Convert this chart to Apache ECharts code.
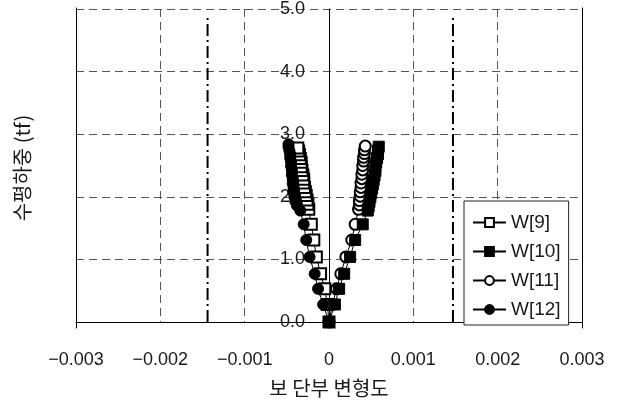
<!DOCTYPE html>
<html>
<head>
<meta charset="utf-8">
<script src="https://cdn.jsdelivr.net/npm/echarts@6/dist/echarts.min.js"></script>
<style>
  html, body { margin: 0; padding: 0; background: #fff; }
  #chart { width: 623px; height: 403px; }
</style>
</head>
<body>
<div id="chart"></div>
<script>
// 보 단부 변형도 vs 수평하중
var seriesNames = ['W[9]', 'W[10]', 'W[11]', 'W[12]'];

var xTicks = [-0.003, -0.002, -0.001, 0, 0.001, 0.002, 0.003];
var yTicks = [0, 1, 2, 3, 4, 5];

// W[9] (open square, left side)
var x9 = [0, -0.00002, -0.00005, -0.0001, -0.00015, -0.00018, -0.00021, -0.00024, -0.00025, -0.00026, -0.00027, -0.00028,
  -0.00029, -0.0003, -0.0003, -0.00031, -0.00032, -0.00033, -0.00033, -0.00034, -0.00035, -0.00036, -0.00037];
var y9 = [0, 0.28, 0.53, 0.77, 1.04, 1.31, 1.56, 1.80, 1.88, 1.95, 2.02, 2.08,
  2.15, 2.22, 2.28, 2.35, 2.42, 2.48, 2.55, 2.61, 2.67, 2.73, 2.78];

// W[10] (filled square, right side)
var x10 = [0, 0.00007, 0.00012, 0.00018, 0.00025, 0.00031, 0.0004, 0.00046, 0.00047, 0.00048, 0.00049, 0.0005,
  0.00051, 0.00052, 0.00053, 0.00054, 0.00055, 0.00055, 0.00056, 0.00057, 0.00058, 0.00058, 0.00059];
var y10 = [0, 0.28, 0.53, 0.77, 1.04, 1.31, 1.56, 1.78, 1.85, 1.92, 1.99, 2.06,
  2.13, 2.20, 2.27, 2.34, 2.41, 2.48, 2.55, 2.62, 2.68, 2.74, 2.80];

// W[11] (open circle, right side)
var x11 = [0, 0.00004, 0.00009, 0.00014, 0.0002, 0.00027, 0.00031, 0.00035, 0.00036, 0.00036, 0.00037, 0.00037,
  0.00038, 0.00038, 0.00039, 0.00039, 0.0004, 0.0004, 0.00041, 0.00041, 0.00042, 0.00042, 0.00043];
var y11 = [0, 0.28, 0.53, 0.77, 1.04, 1.31, 1.56, 1.80, 1.87, 1.94, 2.01, 2.08,
  2.15, 2.22, 2.29, 2.36, 2.43, 2.50, 2.57, 2.63, 2.69, 2.75, 2.81];

// W[12] (filled circle, left side)
var x12 = [0, -0.00007, -0.00013, -0.00017, -0.00023, -0.00027, -0.0003, -0.00034, -0.00038, -0.0004, -0.00041, -0.00042,
  -0.00042, -0.00043, -0.00043, -0.00044, -0.00044, -0.00045, -0.00045, -0.00046, -0.00046, -0.00047, -0.00048, -0.00048];
var y12 = [0, 0.28, 0.53, 0.77, 1.04, 1.31, 1.56, 1.78, 1.86, 1.93, 2.00, 2.07,
  2.14, 2.21, 2.28, 2.35, 2.42, 2.49, 2.56, 2.62, 2.68, 2.74, 2.80, 2.84];

// yield strain lines (dash-dot)
var yieldX = [-0.00144, 0.00147];
var yieldTop = 4.87;

function pairs(xs, ys) {
  return xs.map(function (x, i) { return [x, ys[i]]; });
}

var txt = '#1a1a1a';
var latin = 'Liberation Sans';
var hangul = 'Noto Sans CJK KR';
var gridLine = { show: true, lineStyle: { color: '#555', width: 1, type: [8, 5] } };

function markerSeries(name, xs, ys, symbol) {
  return {
    name: name,
    type: 'line',
    xAxisIndex: 0,
    yAxisIndex: 0,
    data: pairs(xs, ys),
    symbol: symbol,
    symbolSize: 11,
    showAllSymbol: true,
    lineStyle: { color: '#000', width: 1 },
    itemStyle: { color: '#000', borderColor: '#000', borderWidth: 1 }
  };
}

function yieldSeries(x) {
  return {
    type: 'line',
    xAxisIndex: 0,
    yAxisIndex: 0,
    data: [[x, 0], [x, yieldTop]],
    symbol: 'none',
    silent: true,
    lineStyle: { color: '#000', width: 2, type: [12, 4, 2, 4] }
  };
}

var chart = echarts.init(document.getElementById('chart'), null, { renderer: 'canvas' });

var option = {
  animation: false,
  backgroundColor: '#fff',
  grid: [
    { left: 76, right: 41, top: 8, bottom: 75 },
    { left: 76, right: 41, top: 8, bottom: 75 }
  ],
  legend: {
    data: seriesNames,
    orient: 'vertical',
    left: 464,
    top: 201,
    padding: [11, 8, 5, 8],
    itemWidth: 33,
    itemHeight: 11,
    itemGap: 8,
    backgroundColor: '#fff',
    borderColor: '#222',
    borderWidth: 1,
    borderRadius: 0,
    textStyle: { fontSize: 19, color: txt, fontFamily: latin, lineHeight: 21 }
  },
  xAxis: [{
    gridIndex: 0,
    type: 'value',
    min: xTicks[0],
    max: xTicks[xTicks.length - 1],
    interval: 0.001,
    axisLine: { onZero: true, lineStyle: { color: '#000', width: 1 } },
    axisTick: { show: false },
    axisLabel: {
      margin: 29,
      fontSize: 18,
      color: txt,
      fontFamily: latin,
      formatter: function (v) {
        if (Math.abs(v) < 1e-9) return '0';
        var s = Math.abs(v).toFixed(3);
        return v < 0 ? '\u2212' + s : s;
      }
    },
    splitLine: gridLine,
    name: '보 단부 변형도',
    nameLocation: 'middle',
    nameGap: 56,
    nameTextStyle: { fontSize: 20, color: txt, fontFamily: hangul }
  }, {
    gridIndex: 1,
    type: 'value',
    min: xTicks[0],
    max: xTicks[xTicks.length - 1],
    show: false
  }],
  yAxis: [{
    gridIndex: 0,
    type: 'value',
    min: yTicks[0],
    max: yTicks[yTicks.length - 1],
    interval: 1,
    axisLine: { onZero: true, lineStyle: { color: '#000', width: 1 } },
    axisTick: { show: false },
    // labels sit just left of the zero line, inside the plot
    axisLabel: {
      inside: true,
      margin: 204,
      fontSize: 18,
      color: txt,
      fontFamily: latin,
      formatter: function (v) { return v.toFixed(1); }
    },
    splitLine: gridLine
  }, {
    gridIndex: 1,
    type: 'value',
    position: 'left',
    min: yTicks[0],
    max: yTicks[yTicks.length - 1],
    axisLine: { show: true, onZero: false, lineStyle: { color: '#000', width: 1 } },
    axisTick: { show: false },
    axisLabel: { show: false },
    splitLine: { show: false },
    name: '수평하중 (tf)',
    nameLocation: 'middle',
    nameRotate: 90,
    nameGap: 44,
    nameTextStyle: { fontSize: 20, color: txt, fontFamily: hangul }
  }, {
    gridIndex: 1,
    type: 'value',
    position: 'right',
    min: yTicks[0],
    max: yTicks[yTicks.length - 1],
    axisLine: { show: true, onZero: false, lineStyle: { color: '#000', width: 1 } },
    axisTick: { show: false },
    axisLabel: { show: false },
    splitLine: { show: false }
  }],
  series: [
    yieldSeries(yieldX[0]),
    yieldSeries(yieldX[1]),
    markerSeries(seriesNames[0], x9, y9, 'emptyRect'),
    markerSeries(seriesNames[2], x11, y11, 'emptyCircle'),
    markerSeries(seriesNames[1], x10, y10, 'rect'),
    markerSeries(seriesNames[3], x12, y12, 'circle')
  ]
};

chart.setOption(option);
</script>
</body>
</html>
